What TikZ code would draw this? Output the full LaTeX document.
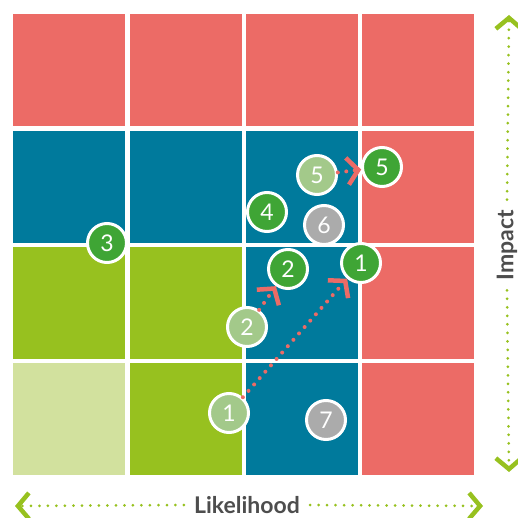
\documentclass[tikz,border=0pt]{standalone}
\usepackage{fontspec}
\setmainfont{Lato}
\usetikzlibrary{arrows.meta}

\definecolor{riskred}{HTML}{EC6B66}
\definecolor{riskblue}{HTML}{007A9C}
\definecolor{riskgreen}{HTML}{97C11F}
\definecolor{risklight}{HTML}{D2E19E}
\definecolor{nowgreen}{HTML}{3FA535}
\definecolor{wasgreen}{HTML}{A3C98A}
\definecolor{idlegrey}{HTML}{ABABAB}
\definecolor{axistext}{HTML}{4D4D4D}

\tikzset{
    risk/.style={circle,draw=white,line width=3pt,minimum size=39pt,inner sep=0pt,
        text=white,font=\fontsize{23}{23}\selectfont},
    now/.style={risk,fill=nowgreen},
    was/.style={risk,fill=wasgreen},
    idle/.style={risk,fill=idlegrey},
    move/.style={draw=riskred,line width=4pt,line cap=round,dash pattern=on 0pt off 8.5pt,
        -{Straight Barb[length=11pt,width=27pt,line width=4.5pt]}},
    axis/.style={draw=riskgreen,line width=3pt,line cap=round,dash pattern=on 0pt off 8.5pt,
        -{Straight Barb[length=11pt,width=26pt,line width=4.5pt]}},
    axislabel/.style={text=axistext,inner xsep=10pt,inner ysep=0pt,
        font=\fontsize{23}{23}\selectfont\bfseries}
}

\begin{document}
\begin{tikzpicture}[x=1pt,y=-1pt]
        \useasboundingbox (0,0) rectangle (517,518);
        % impact rows, top to bottom
        \fill[riskred] (13,14) rectangle ++(112,112);
        \fill[riskred] (130,14) rectangle ++(112,112);
        \fill[riskred] (246,14) rectangle ++(112,112);
        \fill[riskred] (362,14) rectangle ++(112,112);
        \fill[riskblue] (13,131) rectangle ++(112,112);
        \fill[riskblue] (130,131) rectangle ++(112,112);
        \fill[riskblue] (246,131) rectangle ++(112,112);
        \fill[riskred] (362,131) rectangle ++(112,112);
        \fill[riskgreen] (13,247) rectangle ++(112,112);
        \fill[riskgreen] (130,247) rectangle ++(112,112);
        \fill[riskblue] (246,247) rectangle ++(112,112);
        \fill[riskred] (362,247) rectangle ++(112,112);
        \fill[risklight] (13,363) rectangle ++(112,112);
        \fill[riskgreen] (130,363) rectangle ++(112,112);
        \fill[riskblue] (246,363) rectangle ++(112,112);
        \fill[riskred] (362,363) rectangle ++(112,112);
        % risks
        \node[was] (was1) at (229,413) {1};
        \node[now] (now1) at (361,263) {1};
        \node[was] (was2) at (247,327) {2};
        \node[now] (now2) at (288,269) {2};
        \node[now] (r3) at (107,243) {3};
        \node[now] (r4) at (267,212) {4};
        \node[was] (was5) at (317,175) {5};
        \node[now] (now5) at (382,167) {5};
        \node[idle] (r6) at (324,225) {6};
        \node[idle] (r7) at (326,420) {7};
        \draw[move] (was1) -- (now1);
        \draw[move] (was2) -- (now2);
        \draw[move] (was5) -- (now5);
        % axes
        \node[axislabel] (lik) at (247,505) {Likelihood};
        \coordinate (likl) at (15,506);
        \coordinate (likr) at (483,506);
        \draw[axis] (lik.west) -- (likl);
        \draw[axis] (lik.east) -- (likr);
        \node[axislabel,rotate=90] (imp) at (507,245) {Impact};
        \coordinate (impt) at (509,15);
        \coordinate (impb) at (509,472);
        \draw[axis] (imp.east) -- (impt);
        \draw[axis] (imp.west) -- (impb);
\end{tikzpicture}
\end{document}
